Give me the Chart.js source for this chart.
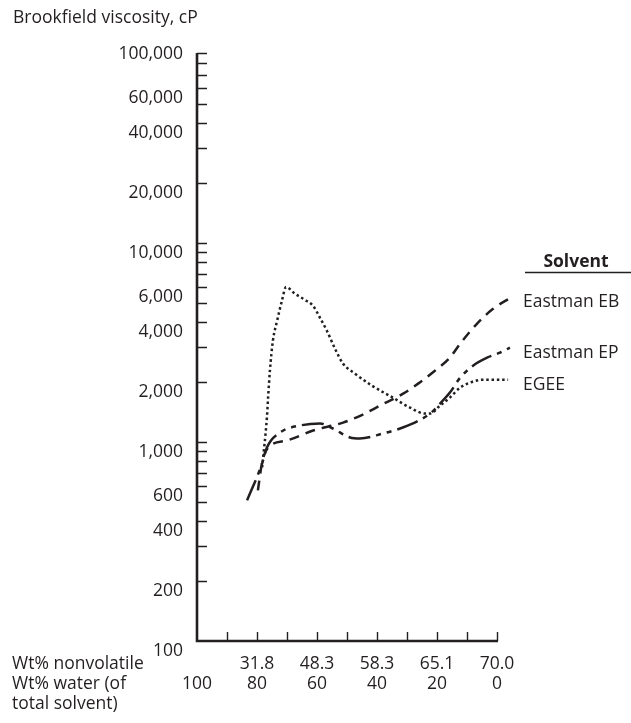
<!DOCTYPE html>
<html><head><meta charset="utf-8">
<script src="https://cdn.jsdelivr.net/npm/chart.js@4/dist/chart.umd.min.js"></script>
<style>html,body{margin:0;padding:0;background:#fff;} #wrap{width:631px;height:723px;position:relative;}</style>
</head><body><div id="wrap"><canvas id="c"></canvas></div>
<script>
// ---- data (x = wt% water of total solvent, y = Brookfield viscosity, cP) ----
const seriesNames = ['Eastman EB', 'Eastman EP', 'EGEE'];

const ebWater = [79.7, 78.3, 76.3, 70, 61.3, 51.3, 44.7, 39, 31.3, 26.3, 20.7, 15.7, 12.3, 6.7, 1.3, -5];
const ebVisc  = [571, 789, 938, 1018, 1142, 1252, 1374, 1524, 1750, 1965, 2281, 2653, 3118, 3926, 4667, 5359];

const epWater = [83.3, 78.3, 76.7, 72.3, 65.7, 59, 54.7, 49, 45.7, 38, 32.3, 28, 22.3, 19, 15.7, 12.3, 8, 3.3, -1, -4.3];
const epVisc  = [509, 780, 938, 1116, 1210, 1239, 1169, 1054, 1042, 1103, 1169, 1239, 1389, 1559, 1771, 2104, 2417, 2653, 2810, 2977];

const egeeWater = [78.3, 76.7, 76.3, 75.7, 74.7, 73.3, 71.7, 70.3, 67.3, 64, 61.3, 59, 56.7, 54, 51.3, 47.3, 41.7, 34.7, 29, 24, 22.3, 19, 15.7, 12.3, 9, 4.7, -3.7];
const egeeVisc  = [745, 1327, 1671, 2281, 3228, 4064, 5119, 6016, 5550, 5179, 4831, 4207, 3622, 2943, 2474, 2204, 1920, 1671, 1489, 1390, 1390, 1524, 1671, 1876, 1988, 2057, 2057];

// ---- axes ----
const yTickMarks  = [100, 200, 300, 400, 500, 600, 700, 800, 900,
                     1000, 2000, 3000, 4000, 5000, 6000, 7000, 8000, 9000,
                     10000, 20000, 30000, 40000, 50000, 60000, 70000, 80000, 90000];
const yLabelValues = [100, 200, 400, 600, 1000, 2000, 4000, 6000, 10000, 20000, 40000, 60000, 100000];
const xTickValues = [100, 90, 80, 70, 60, 50, 40, 30, 20, 10, 0];
const nonvolatileLabels = {80: '31.8', 60: '48.3', 40: '58.3', 20: '65.1', 0: '70.0'};
const waterLabels = {100: '100', 80: '80', 60: '60', 40: '40', 20: '20', 0: '0'};
const xAxisTexts = ['Wt% nonvolatile', 'Wt% water (of', 'total solvent)'];

const INK = '#231f20';
const FAMILY = '"Open Sans", "DejaVu Sans", sans-serif';
const FS = 17.5;

function fmt(v) { return String(v).replace(/\B(?=(\d{3})+(?!\d))/g, ','); }
function pts(xs, ys) { return xs.map((x, i) => ({x: x, y: ys[i]})); }

const decor = {
  id: 'decor',
  afterDatasetsDraw(chart) {
    const ctx = chart.ctx, xs = chart.scales.x, ys = chart.scales.y;
    const x0 = xs.getPixelForValue(xTickValues[0]);
    const x1 = xs.getPixelForValue(xTickValues[xTickValues.length - 1]);
    const yb = ys.getPixelForValue(yTickMarks[0]);
    const yt = ys.getPixelForValue(yTickMarks[yTickMarks.length - 1]);
    ctx.save();
    ctx.strokeStyle = INK;
    ctx.lineWidth = 2.6;
    ctx.lineJoin = 'miter';
    ctx.beginPath();
    ctx.moveTo(x0, yt); ctx.lineTo(x0, yb); ctx.lineTo(x1 + 1, yb);
    ctx.stroke();
    ctx.lineWidth = 1.4;
    ctx.beginPath();
    yTickMarks.slice(1).forEach(v => { const p = Math.round(ys.getPixelForValue(v)) + 0.5; ctx.moveTo(x0, p); ctx.lineTo(x0 + 10, p); });
    xTickValues.slice(1).forEach(v => { const p = Math.round(xs.getPixelForValue(v)) + 0.5; ctx.moveTo(p, yb); ctx.lineTo(p, yb - 9); });
    ctx.stroke();

    ctx.fillStyle = INK;
    ctx.textBaseline = 'middle';
    // left-hand x axis captions
    ctx.textAlign = 'left';
    ctx.font = FS + 'px ' + FAMILY;
    xAxisTexts.forEach((t, i) => ctx.fillText(t, 12, yb + 23 + i * 20));
    // series labels at the line ends
    chart.data.datasets.forEach((ds, i) => {
      const meta = chart.getDatasetMeta(i);
      const last = meta.data[meta.data.length - 1];
      ctx.fillText(ds.label, 523, last.y + 5);
    });
    // legend header
    ctx.font = 'bold ' + FS + 'px ' + FAMILY;
    ctx.textAlign = 'center';
    ctx.fillText('Solvent', 576, 262);
    ctx.lineWidth = 1.5;
    ctx.beginPath(); ctx.moveTo(525, 272.5); ctx.lineTo(631, 272.5); ctx.stroke();
    ctx.restore();
  }
};

const common = {borderColor: INK, borderWidth: 2.5, pointRadius: 0, fill: false, clip: false, cubicInterpolationMode: 'monotone', borderCapStyle: 'butt'};

new Chart(document.getElementById('c'), {
  type: 'line',
  data: {
    datasets: [
      Object.assign({label: seriesNames[0], data: pts(ebWater, ebVisc), borderDash: [10, 7]}, common),
      Object.assign({label: seriesNames[1], data: pts(epWater, epVisc), borderDash: [22, 6, 5, 6, 5, 6]}, common),
      Object.assign({label: seriesNames[2], data: pts(egeeWater, egeeVisc), borderDash: [2.5, 2.8]}, common)
    ]
  },
  options: {
    responsive: true,
    maintainAspectRatio: false,
    animation: false,
    layout: {padding: {left: 13, right: 134, top: 0, bottom: 0}},
    plugins: {
      legend: {display: false},
      tooltip: {enabled: false},
      title: {display: true, text: 'Brookfield viscosity, cP', align: 'start', color: INK,
              font: {family: FAMILY, size: FS, weight: 'normal', lineHeight: 1.2}, padding: {top: 8, bottom: 15}}
    },
    scales: {
      x: {
        type: 'linear', reverse: true, min: 0, max: 100,
        afterBuildTicks: s => { s.ticks = xTickValues.map(v => ({value: v})); },
        afterFit: s => { s.height = 82; },
        grid: {display: false, drawTicks: false},
        border: {display: false},
        ticks: {autoSkip: false, maxRotation: 0, padding: 13, color: INK,
                font: {family: FAMILY, size: FS, lineHeight: 1.15},
                callback: v => [nonvolatileLabels[v] || '', waterLabels[v] || '']}
      },
      y: {
        type: 'logarithmic', min: 100, max: 100000,
        afterBuildTicks: s => { s.ticks = yTickMarks.concat([100000]).map(v => ({value: v})); },
        afterFit: s => { s.width = 184; },
        grid: {display: false, drawTicks: false},
        border: {display: false},
        ticks: {autoSkip: false, padding: 14, labelOffset: 10, color: INK,
                font: {family: FAMILY, size: FS},
                callback: v => yLabelValues.includes(v) ? fmt(v) : ''}
      }
    }
  },
  plugins: [decor]
});
</script>
</body></html>
